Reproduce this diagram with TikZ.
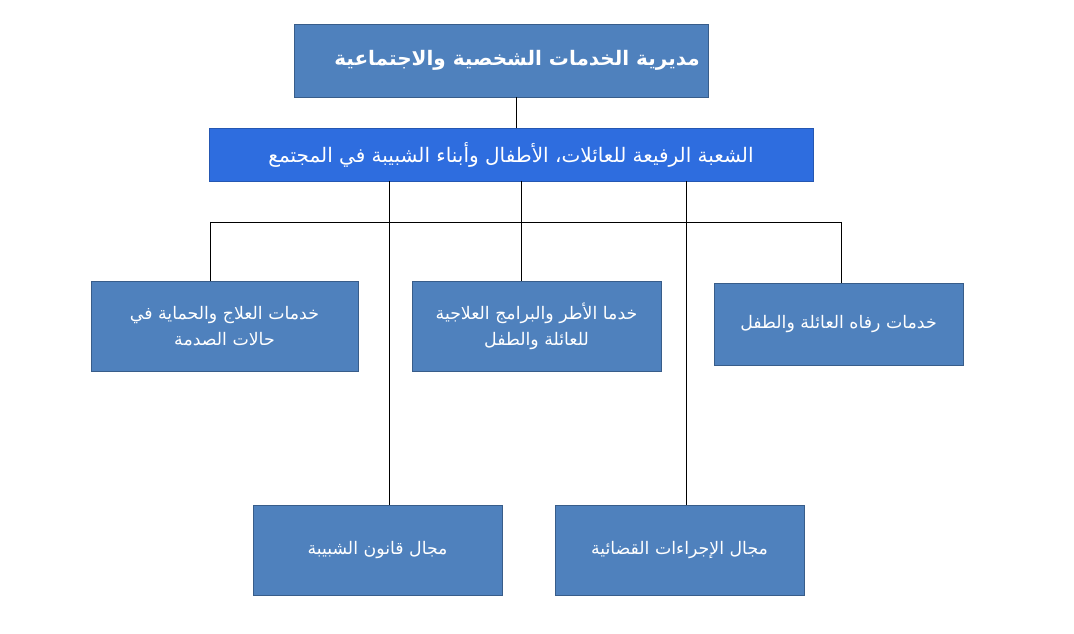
\documentclass[tikz,border=0pt]{standalone}
\usepackage{fontspec}
\setmainfont{DejaVu Sans}
\newfontfamily\arabicfont[Script=Arabic]{DejaVu Sans}
\TeXXeTstate=1
\usetikzlibrary{positioning}
\definecolor{cBox}{RGB}{79,129,189}
\definecolor{cEdge}{RGB}{56,93,138}
\definecolor{cDiv}{RGB}{46,109,223}

\begin{document}
\begin{tikzpicture}[
  x=0.75pt, y=-0.75pt,
  box/.style  = {draw=cEdge, fill=cBox, text=white, align=center, inner sep=2pt,
                 minimum width=186.75pt, minimum height=67.5pt,
                 font=\arabicfont\fontsize{13}{19.5}\selectfont},
  head/.style = {box, minimum width=310.5pt, minimum height=54.75pt,
                 font=\arabicfont\bfseries\fontsize{15}{18}\selectfont},
  div/.style  = {box, draw=cDiv!80!black, fill=cDiv, minimum width=453pt,
                 minimum height=39.75pt, font=\arabicfont\fontsize{15}{18}\selectfont},
  link/.style = {draw=black, line width=0.6pt}
]
\useasboundingbox[fill=white] (0,0) rectangle (1074,634);

% ---------------------------------------------------------------- le caselle --
\node[head]  (dir)     at (501,60.5)  {\hspace*{24pt}\beginR مديرية الخدمات الشخصية والاجتماعية\endR};
\node[div]   (unit)    at (511,154.5) {\beginR الشعبة الرفيعة للعائلات، الأطفال وأبناء الشبيبة في المجتمع\endR};
\node[box, minimum width=200.25pt] (trauma) at (224.5,326)
  {\beginR خدمات العلاج والحماية في\endR\\ \beginR حالات الصدمة\endR};
\node[box]   (frame)   at (536.5,326)
  {\beginR خدما الأطر والبرامج العلاجية\endR\\ \beginR للعائلة والطفل\endR};
\node[box, minimum height=61.5pt] (welfare) at (838.5,324)
  {\beginR خدمات رفاه العائلة والطفل\endR};
\node[box]   (youth)   at (377.5,550) {\beginR مجال قانون الشبيبة\endR};
\node[box]   (court)   at (679.5,550) {\beginR مجال الإجراءات القضائية\endR};

% ------------------------------------------------------------------- linee --
\coordinate (trunk)    at (516,0);
\coordinate (busL)     at (210,222);
\coordinate (busR)     at (841,222);
\coordinate (midTap)   at (521,0);
\coordinate (youthTap) at (389,0);
\coordinate (courtTap) at (686,0);

\draw[link] (trunk |- dir.south) -- (trunk |- unit.north);
\draw[link] (busL) -- (busR);
\draw[link] (busL) -- (busL |- trauma.north);
\draw[link] (busR) -- (busR |- welfare.north);
\draw[link] (midTap |- unit.south) -- (midTap |- frame.north);
\draw[link] (youthTap |- unit.south) -- (youthTap |- youth.north);
\draw[link] (courtTap |- unit.south) -- (courtTap |- court.north);

\end{tikzpicture}
\end{document}
